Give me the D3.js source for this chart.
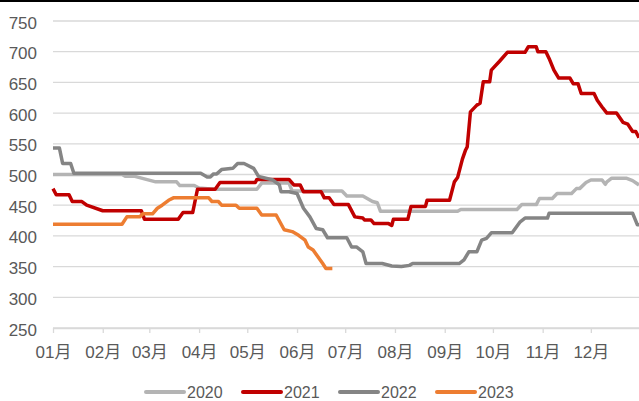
<!DOCTYPE html>
<meta charset="utf-8">
<script src="https://d3js.org/d3.v7.min.js"></script>
<style>
  body { margin: 0; background: #fff; }
  text { font-family: "Liberation Sans", Arial, "Noto Sans CJK SC", sans-serif; fill: #595959; }
</style>
<div id="chart"></div>
<script>
// weekly price readings, [month-day, value]
const s2020 = [["01-01",500],["02-13",500],["02-15",497],["02-21",497],["03-05",488],["03-18",488],["03-20",482],["03-29",482],
  ["04-01",478],["04-10",476],["05-07",476],["05-10",486],["05-27",486],["05-29",473],["06-29",473],["07-02",465],["07-12",465],
  ["07-18",456],["07-21",454],["07-23",440],["09-09",440],["09-11",443],["10-16",443],["10-19",451],["10-28",451],["10-30",461],
  ["11-07",461],["11-10",469],["11-19",469],["11-22",477],["11-24",477],["11-28",487],["12-01",491],["12-08",491],["12-10",484],
  ["12-11",488],["12-14",494],["12-23",494],["12-27",490],["12-31",483]];
const s2021 = [["01-01",477],["01-03",467],["01-11",467],["01-13",456],["01-19",456],["01-22",450],["02-01",441],["02-25",441],
  ["02-27",427],["03-19",427],["03-22",438],["03-28",438],["03-31",476],["04-11",476],["04-14",487],["05-06",487],["05-07",492],
  ["05-27",492],["05-30",483],["06-03",483],["06-05",472],["06-16",472],["06-18",462],["06-21",462],["06-24",451],["07-03",451],
  ["07-07",431],["07-12",429],["07-13",426],["07-17",426],["07-19",420],["07-28",420],["07-30",417],["07-31",427],["08-09",427],
  ["08-11",448],["08-20",448],["08-21",458],["09-04",458],["09-07",488],["09-09",495],["09-12",525],["09-14",540],["09-15",545],
  ["09-17",602],["09-21",613],["09-23",616],["09-25",651],["09-29",651],["09-30",670],["10-05",684],["10-10",699],["10-21",699],
  ["10-23",708],["10-28",708],["10-29",700],["11-03",700],["11-05",689],["11-08",670],["11-11",657],["11-18",657],["11-20",648],
  ["11-23",648],["11-25",632],["12-03",632],["12-05",621],["12-08",610],["12-11",600],["12-17",600],["12-21",585],["12-24",582],
  ["12-27",570],["12-29",570],["12-31",560]];
const s2022 = [["01-01",543],["01-05",543],["01-07",518],["01-12",518],["01-14",502],["04-02",502],["04-06",496],["04-08",496],
  ["04-10",501],["04-12",501],["04-15",508],["04-22",510],["04-25",518],["04-29",518],["05-05",510],["05-08",497],["05-17",491],
  ["05-21",483],["05-22",472],["05-27",472],["06-01",469],["06-05",445],["06-09",431],["06-13",412],["06-17",410],["06-20",397],
  ["07-02",397],["07-05",382],["07-08",382],["07-12",374],["07-14",355],["07-24",355],["07-30",351],["08-05",350],["08-10",352],
  ["08-12",355],["09-10",355],["09-13",361],["09-16",374],["09-21",374],["09-24",393],["09-27",396],["09-30",405],["10-13",405],
  ["10-18",423],["10-21",429],["11-04",429],["11-05",437],["12-27",437],["12-30",418],["12-31",418]];
const s2023 = [["01-01",419],["02-13",419],["02-16",431],["02-24",431],["02-26",436],["03-03",436],["03-06",445],["03-09",450],
  ["03-13",458],["03-16",462],["04-07",462],["04-09",456],["04-13",456],["04-15",450],["04-24",450],["04-26",445],["05-07",445],
  ["05-10",434],["05-19",434],["05-24",410],["05-29",407],["06-02",401],["06-06",393],["06-08",382],["06-11",377],["06-14",366],
  ["06-17",355],["06-19",347],["06-23",347]];

const seriesNames = ["2020", "2021", "2022", "2023"];
const seriesData = [s2020, s2021, s2022, s2023];
const colors = ["#b4b4b4", "#c00000", "#858585", "#ed7d31"];
const monthLabels = ["01月","02月","03月","04月","05月","06月","07月","08月","09月","10月","11月","12月"];
const yTicks = [250, 300, 350, 400, 450, 500, 550, 600, 650, 700, 750];

const W = 639, H = 401;
const svg = d3.select("#chart").append("svg").attr("width", W).attr("height", H);

// thin black bar across the top
svg.append("rect").attr("x", 0).attr("y", 0).attr("width", W).attr("height", 2).attr("fill", "#000");

const parse = d3.timeParse("%Y-%m-%d");
const x = d3.scaleTime()
  .domain([parse("2020-01-01"), parse("2020-12-31")])
  .range([53, 639]);
const y = d3.scaleLinear().domain([250, 750]).range([328, 21]);

// grid
svg.append("g").selectAll("line").data(yTicks).join("line")
  .attr("x1", 53).attr("x2", 639)
  .attr("y1", d => y(d)).attr("y2", d => y(d))
  .attr("stroke", "#d9d9d9").attr("stroke-width", 1.3);

// y axis labels
const yAxis = svg.append("g").attr("transform", "translate(53,0)")
  .call(d3.axisLeft(y).tickValues(yTicks).tickSize(0).tickPadding(16));
yAxis.select(".domain").remove();
yAxis.selectAll("text").attr("font-size", 17).attr("dy", 7)
  .style("font-family", null).attr("font-family", null);

// x axis
const months = d3.timeMonth.range(parse("2020-01-01"), parse("2020-12-31"));
const xAxis = svg.append("g").attr("transform", "translate(0,328)")
  .call(d3.axisBottom(x).tickValues(months).tickFormat((d, i) => monthLabels[i]).tickSize(5).tickSizeOuter(0));
xAxis.select(".domain").attr("stroke", "#d9d9d9").attr("stroke-width", 1.3);
xAxis.selectAll(".tick line").attr("stroke", "#d9d9d9").attr("stroke-width", 1.3);
xAxis.selectAll("text").attr("font-size", 17).attr("y", 30).attr("dy", 0).attr("font-family", null);

// lines
const line = d3.line()
  .x(d => x(parse("2020-" + d[0])))
  .y(d => y(d[1]));

svg.append("g").selectAll("path").data(seriesData).join("path")
  .attr("d", d => line(d))
  .attr("fill", "none")
  .attr("stroke", (d, i) => colors[i])
  .attr("stroke-width", 3.5)
  .attr("stroke-linejoin", "round");

// legend
const legendX = [146, 243, 340, 437];
const lg = svg.append("g").selectAll("g").data(seriesNames).join("g")
  .attr("transform", (d, i) => `translate(${legendX[i]},392)`);
lg.append("line").attr("x1", 0).attr("x2", 38).attr("y1", 0).attr("y2", 0)
  .attr("stroke", (d, i) => colors[i]).attr("stroke-width", 4).attr("stroke-linecap", "round");
lg.append("text").attr("x", 41).attr("y", 6).attr("font-size", 16).text(d => d);
</script>
